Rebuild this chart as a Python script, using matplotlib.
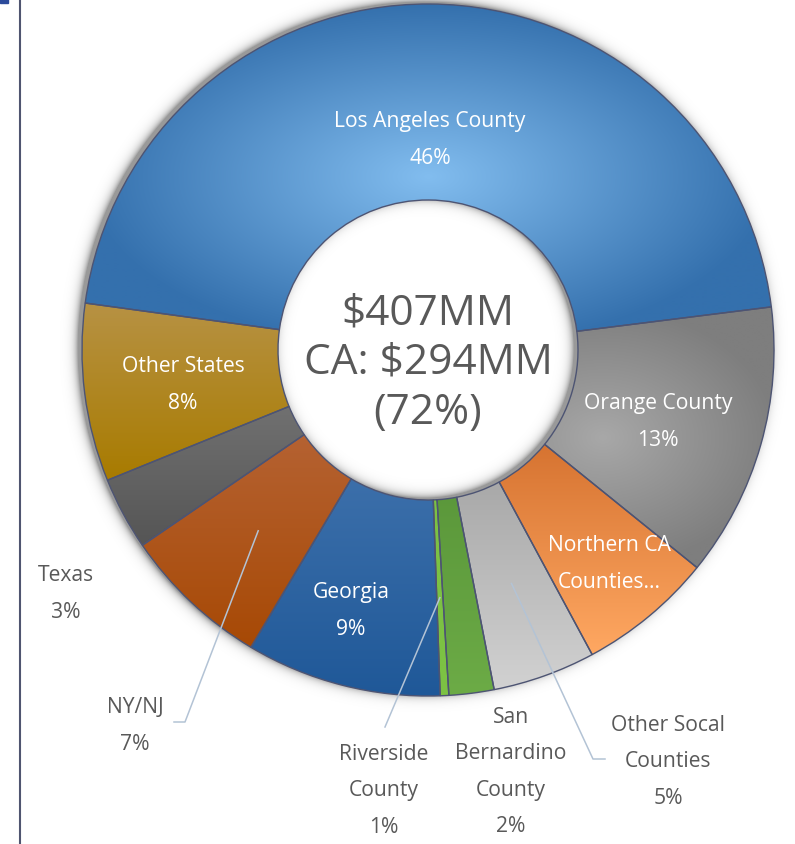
import numpy as np
import matplotlib
matplotlib.use("Agg")
import matplotlib.pyplot as plt
from matplotlib.colors import to_rgb
from matplotlib.patches import Rectangle

W, H = 795, 845

# data (share of $407MM)
names = ["Los Angeles County", "Orange County", "Northern CA Counties...",
         "Other Socal Counties", "San Bernardino County", "Riverside County",
         "Georgia", "NY/NJ", "Texas", "Other States"]
shares = [45.8, 12.8, 6.3, 4.8, 2.1, 0.4, 9.1, 6.9, 3.4, 8.3]
pct_labels = ["46%", "13%", "", "5%", "2%", "1%", "9%", "7%", "3%", "8%"]
total_text = "$407MM"
ca_text = "CA: $294MM"
ca_pct_text = "(72%)"

# label text as shown (wrapped like the original)
label_text = ["Los Angeles County", "Orange County", "Northern CA\nCounties...",
              "Other Socal\nCounties", "San\nBernardino\nCounty", "Riverside\nCounty",
              "Georgia", "NY/NJ", "Texas", "Other States"]

# gradient style per slice: mode, first colour, second colour
grads = [
    ("path", "#82bdef", "#3470ad"),
    ("path", "#a8a8a8", "#7e7e7e"),
    ("vert", "#c45c1b", "#ffa862"),
    ("vert", "#8e8e8e", "#d2d2d2"),
    ("vert", "#4f8a33", "#6cab46"),
    ("vert", "#7cc243", "#7cc243"),
    ("vert", "#4d7db5", "#1f5898"),
    ("vert", "#bb6c44", "#a74905"),
    ("vert", "#7c7c7c", "#555555"),
    ("vert", "#b79244", "#a87b00"),
]

# label anchors in picture pixels (x, y from top), inside = white
label_pos = [(430, 140), (658, 422), (609, 564), (668, 762), (511, 772),
             (384, 791), (351, 611), (135, 726), (66, 594), (183, 385)]
inside = [True, True, True, False, False, False, True, False, False, True]
# leader lines: index -> list of points after the start (pixels)
leaders = {7: [(185, 723), (174, 723)], 5: [(385, 728)], 3: [(593, 760), (605, 760)]}

plt.rcParams["font.family"] = ["Open Sans", "DejaVu Sans"]

fig = plt.figure(figsize=(W / 100, H / 100), dpi=100)
ax = fig.add_axes([0, 0, 1, 1])

cx, cy = 428, H - 351
R, R_in = 346, 150

def P(x, y):
    return x, H - y

# soft shadow of the ring, nudged a little up-left
xx, yy = np.meshgrid(np.arange(W) + 0.5, np.arange(H) + 0.5)
rs = np.hypot(xx - (cx - 4), yy - (cy + 2))
d = np.maximum(rs - R, R_in - rs)
sh = np.where(d > 0, 0.4 * np.exp(-d / 4.0), 0.4)
shadow = np.zeros((H, W, 4))
shadow[..., 3] = sh
ax.imshow(shadow, extent=(0, W, 0, H), origin="lower", zorder=0.5, interpolation="bilinear")

wedges, _ = ax.pie(shares, radius=R, center=(cx, cy), startangle=172.2, counterclock=False,
                   wedgeprops=dict(width=R - R_in, edgecolor="#4d5473", linewidth=1.0,
                                   facecolor="none"))

for w, (mode, c1, c2) in zip(wedges, grads):
    w.set_zorder(3)
    v = w.get_path().vertices
    x0, y0 = v.min(axis=0)
    x1, y1 = v.max(axis=0)
    nx, ny = max(int(x1 - x0), 2), max(int(y1 - y0), 2)
    gx, gy = np.meshgrid(np.linspace(x0, x1, nx), np.linspace(y0, y1, ny))
    if mode == "path":
        hx, hy = (x1 - x0) / 2, (y1 - y0) / 2
        t = np.clip(np.hypot((gx - (x0 + hx)) / hx, (gy - (y0 + hy)) / hy), 0, 1)
    else:
        t = (y1 - gy) / (y1 - y0)
    a, b = np.array(to_rgb(c1)), np.array(to_rgb(c2))
    img = a + (b - a) * t[..., None]
    im = ax.imshow(img, extent=(x0, x1, y0, y1), origin="lower", zorder=2,
                   interpolation="bilinear")
    im.set_clip_path(w)

# labels
for i, w in enumerate(wedges):
    txt = label_text[i] + ("\n" + pct_labels[i] if pct_labels[i] else "")
    col = "white" if inside[i] else "#595959"
    x, y = P(*label_pos[i])
    ax.text(x, y, txt, ha="center", va="center", fontsize=15.2, color=col,
            linespacing=1.97, zorder=5)
    if i in leaders:
        mid = np.deg2rad((w.theta1 + w.theta2) / 2)
        pts = [(cx + 248 * np.cos(mid), cy + 248 * np.sin(mid))] + [P(*p) for p in leaders[i]]
        pts = np.array(pts)
        ax.plot(pts[:, 0], pts[:, 1], color="#b3c3d5", lw=1.1, zorder=4)

ax.text(*P(428, 363), "\n".join([total_text, ca_text, ca_pct_text]), ha="center",
        va="center", fontsize=30.5, color="#595959", linespacing=1.24, zorder=5)

# frame bits from the slide
ax.plot([20, 20], [0, H], color="#4f5570", lw=1.5, zorder=1)
ax.add_patch(Rectangle((0, H - 4), 8, 4, color="#2c4b9b", zorder=1))

ax.set_xlim(0, W)
ax.set_ylim(0, H)
ax.set_aspect("auto")
ax.axis("off")

fig.savefig("out.png", dpi=100)
